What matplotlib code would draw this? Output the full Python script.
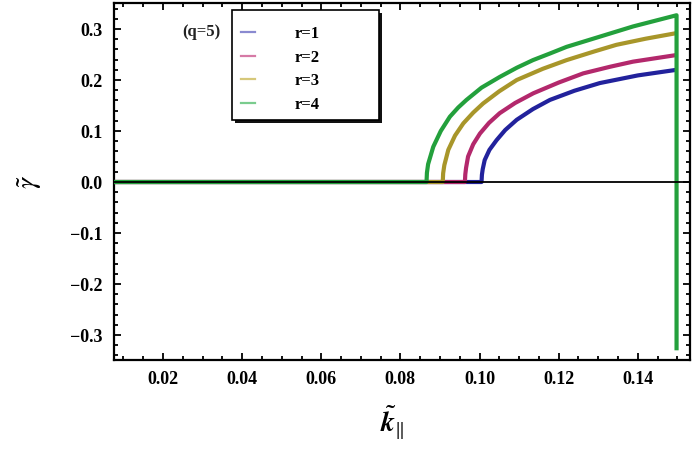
import matplotlib
matplotlib.use("Agg")
import matplotlib.pyplot as plt
from matplotlib.patches import Rectangle
from matplotlib.ticker import MultipleLocator, FormatStrFormatter

plt.rcParams['font.family'] = ['Liberation Serif', 'DejaVu Serif']
plt.rcParams['mathtext.fontset'] = 'stix'

labels = ["r=1", "r=2", "r=3", "r=4"]
colors = ["#22229c", "#b3286c", "#a8962a", "#23a03c"]
legend_colors = ["#8a8ad0", "#d67aa6", "#d6c87a", "#7acc8e"]

x_start = 0.0076
k_r1 = [x_start, 0.1005, 0.1006, 0.1008, 0.1013, 0.1025, 0.1043, 0.1065, 0.1094, 0.1135, 0.1178, 0.1240, 0.1304, 0.1400, 0.1498]
g_r1 = [0.0, 0.0, 0.014, 0.025, 0.043, 0.063, 0.082, 0.102, 0.122, 0.143, 0.161, 0.179, 0.194, 0.209, 0.220]

k_r2 = [x_start, 0.0963, 0.0964, 0.0966, 0.0971, 0.0984, 0.1001, 0.1024, 0.1051, 0.1090, 0.1136, 0.1200, 0.1262, 0.1330, 0.1388, 0.1498]
g_r2 = [0.0, 0.0, 0.015, 0.028, 0.050, 0.074, 0.095, 0.116, 0.135, 0.155, 0.174, 0.195, 0.213, 0.226, 0.236, 0.249]

k_r3 = [x_start, 0.0907, 0.0908, 0.0911, 0.0921, 0.0938, 0.0959, 0.0984, 0.1009, 0.1050, 0.1094, 0.1160, 0.1220, 0.1290, 0.1346, 0.1420, 0.1498]
g_r3 = [0.0, 0.0, 0.017, 0.033, 0.063, 0.091, 0.115, 0.136, 0.154, 0.178, 0.200, 0.222, 0.239, 0.256, 0.269, 0.281, 0.292]

k_r4 = [x_start, 0.0866, 0.0867, 0.0870, 0.0883, 0.0902, 0.0925, 0.0946, 0.0967, 0.1005, 0.1051, 0.1094, 0.1135, 0.1178, 0.1220, 0.1304, 0.1388, 0.1498, 0.1498]
g_r4 = [0.0, 0.0, 0.018, 0.035, 0.069, 0.100, 0.128, 0.146, 0.161, 0.185, 0.206, 0.224, 0.239, 0.252, 0.265, 0.285, 0.305, 0.327, -0.33]

series_k = [k_r1, k_r2, k_r3, k_r4]
series_g = [g_r1, g_r2, g_r3, g_r4]

xticks = [0.02, 0.04, 0.06, 0.08, 0.10, 0.12, 0.14]
yticks = [-0.3, -0.2, -0.1, 0.0, 0.1, 0.2, 0.3]

fig = plt.figure(figsize=(6.99, 4.53), dpi=100)
ax = fig.add_axes([114/699, 1 - 360/453, 576/699, 357/453])

for k, g, c in zip(series_k, series_g, colors):
    ax.plot(k, g, color=c, lw=3.0, solid_joinstyle='round', solid_capstyle='butt', zorder=3)

ax.axhline(0, color='black', lw=1.3, zorder=4)

ax.set_xlim(0.0076, 0.1532)
ax.set_ylim(-0.349, 0.351)
ax.set_xticks(xticks)
ax.set_yticks(yticks)
ax.xaxis.set_major_formatter(FormatStrFormatter('%.2f'))
ax.set_yticklabels([f"{v:.1f}".replace('-', '\u2212') for v in yticks])
ax.xaxis.set_minor_locator(MultipleLocator(0.005))
ax.yaxis.set_minor_locator(MultipleLocator(0.02))
ax.tick_params(which='both', direction='in', top=True, right=True, width=1.3)
ax.tick_params(which='major', length=5, labelsize=13, pad=8)
ax.tick_params(which='minor', length=3)
for lab in ax.get_xticklabels() + ax.get_yticklabels():
    lab.set_fontweight('bold')
for s in ax.spines.values():
    s.set_linewidth(1.6)

fig.text(30/699, 1 - 182/453, r'$\tilde{\gamma}$', fontsize=20, rotation=90,
         ha='center', va='center')
fig.text(392/699, 1 - 422/453, r'$\tilde{\boldsymbol{k}}_{\|}$', fontsize=20,
         ha='center', va='center')

# legend box
bx0, by0, bw, bh = 232, 10, 147, 110
def fx(px):
    return px / 699
def fy(py):
    return 1 - py / 453
fig.patches.append(Rectangle((fx(bx0 + 3), fy(by0 + bh + 3)), bw / 699, bh / 453,
                             transform=fig.transFigure, facecolor='#111111',
                             edgecolor='none', zorder=5))
fig.patches.append(Rectangle((fx(bx0), fy(by0 + bh)), bw / 699, bh / 453,
                             transform=fig.transFigure, facecolor='white',
                             edgecolor='black', lw=1.2, zorder=6))
handles = [plt.Line2D([], [], color=c, lw=1.6) for c in legend_colors]
leg = fig.legend(handles, labels, loc='upper left',
                 bbox_to_anchor=(fx(bx0 + 1), fy(by0 + 8)),
                 frameon=False, handlelength=0.8,
                 handletextpad=2.4, labelspacing=0.45, borderpad=0.0,
                 prop={'weight': 'bold', 'size': 12})
leg.set_zorder(7)
fig.text(201/699, 1 - 32/453, "(q=5)", fontsize=12, fontweight='bold',
         ha='center', va='center', color='#222222')

fig.savefig("out.png", dpi=100)
